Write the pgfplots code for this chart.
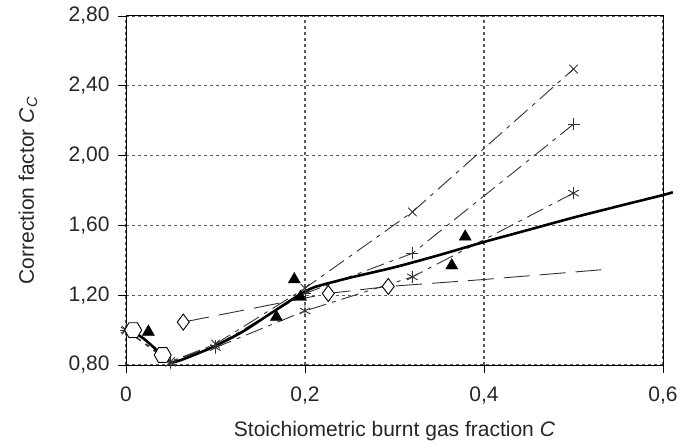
\documentclass[border=0pt]{standalone}
\usepackage{pgfplots}
\pgfplotsset{compat=1.18}
\usepackage{fontspec}
\setmainfont{Liberation Sans}
\pgfdeclareplotmark{hexagon}{%
  \pgfpathmoveto{\pgfpointpolar{0}{\pgfplotmarksize}}%
  \pgfpathlineto{\pgfpointpolar{60}{\pgfplotmarksize}}%
  \pgfpathlineto{\pgfpointpolar{120}{\pgfplotmarksize}}%
  \pgfpathlineto{\pgfpointpolar{180}{\pgfplotmarksize}}%
  \pgfpathlineto{\pgfpointpolar{240}{\pgfplotmarksize}}%
  \pgfpathlineto{\pgfpointpolar{300}{\pgfplotmarksize}}%
  \pgfpathclose
  \pgfusepathqfillstroke}
\begin{document}
\begin{tikzpicture}
\begin{axis}[
  scale only axis, width=537pt, height=349pt,
  xmin=0, xmax=0.6, ymin=0.8, ymax=2.8,
  xtick={0,0.2,0.4,0.6}, xticklabels={0,{0,2},{0,4},{0,6}},
  ytick={0.8,1.2,1.6,2.0,2.4,2.8},
  yticklabels={{0,80},{1,20},{1,60},{2,00},{2,40},{2,80}},
  tick align=outside, major tick length=8pt,
  xtick pos=bottom, ytick pos=left,
  tick style={black, line width=0.8pt},
  axis line style={black, line width=1pt},
  grid=major,
  major grid style={black!65, line width=1.3pt, dash pattern=on 3pt off 3pt},
  tick label style={font=\fontsize{21}{25}\selectfont, text=black!85},
  xticklabel style={anchor=base, yshift=-28pt},
  yticklabel style={anchor=east, xshift=-5pt},
  label style={font=\fontsize{21}{25}\selectfont, text=black!85},
  xlabel={Stoichiometric burnt gas fraction \textit{C}},
  ylabel={Correction factor \textit{C}\textsubscript{\textit{C}}},
  xlabel style={at={(axis description cs:0.5,-0.206)}, anchor=base},
  ylabel style={at={(axis description cs:-0.1825,0.5)}, anchor=center},
  clip=false,
]
% X series
\addplot[black!80, line width=0.9pt, dash pattern=on 18pt off 6pt on 4pt off 6pt,
  mark=x, mark size=6pt, mark options={solid, line width=0.9pt}]
  coordinates {(0,1.0) (0.05,0.82) (0.1,0.92) (0.2,1.24) (0.32,1.677) (0.5,2.496)};
% plus series
\addplot[black!80, line width=0.9pt, dash pattern=on 18pt off 6pt on 4pt off 6pt,
  mark=+, mark size=6pt, mark options={solid, line width=0.9pt}]
  coordinates {(0,1.0) (0.05,0.82) (0.1,0.91) (0.2,1.21) (0.32,1.44) (0.5,2.18)};
% asterisk series
\addplot[black!80, line width=0.9pt, dash pattern=on 18pt off 6pt on 4pt off 6pt,
  mark=asterisk, mark size=6pt, mark options={solid, line width=0.9pt}]
  coordinates {(0,1.0) (0.05,0.81) (0.1,0.90) (0.2,1.11) (0.32,1.305) (0.5,1.785)};
% diamond series line
\addplot[black!80, line width=0.9pt, dash pattern=on 26pt off 10pt]
  coordinates {(0.064,1.046) (0.226,1.21) (0.293,1.25) (0.4,1.29) (0.541,1.35)};
\addplot[only marks, mark=diamond*, mark size=8pt, mark options={fill=white, draw=black, line width=0.9pt}]
  coordinates {(0.064,1.046) (0.226,1.21) (0.293,1.25)};
% solid line
\addplot[black, line width=2.6pt, smooth, tension=0.4]
  coordinates {(0.005,1.0) (0.02,0.95) (0.04,0.86) (0.051,0.815) (0.07,0.845) (0.1,0.91)
   (0.13,0.99) (0.16,1.09) (0.19,1.19) (0.21,1.245) (0.25,1.30) (0.3,1.36) (0.35,1.43)
   (0.4,1.505) (0.45,1.575) (0.5,1.645) (0.55,1.71) (0.6,1.774) (0.611,1.79)};
% hexagons
\addplot[only marks, mark=hexagon, mark size=8.5pt, mark options={fill=white, draw=black, line width=0.9pt}]
  coordinates {(0.008,1.0) (0.041,0.857)};
% triangles
\addplot[only marks, mark=triangle*, mark size=7pt, mark options={fill=black, draw=black}]
  coordinates {(0.025,0.99) (0.168,1.075) (0.188,1.29) (0.195,1.19) (0.364,1.37) (0.379,1.535)};
\end{axis}
\pgfresetboundingbox
\path ([shift={(-126pt,-80pt)}]current axis.south west) rectangle ([shift={(31pt,16pt)}]current axis.north east);
\end{tikzpicture}
\end{document}
